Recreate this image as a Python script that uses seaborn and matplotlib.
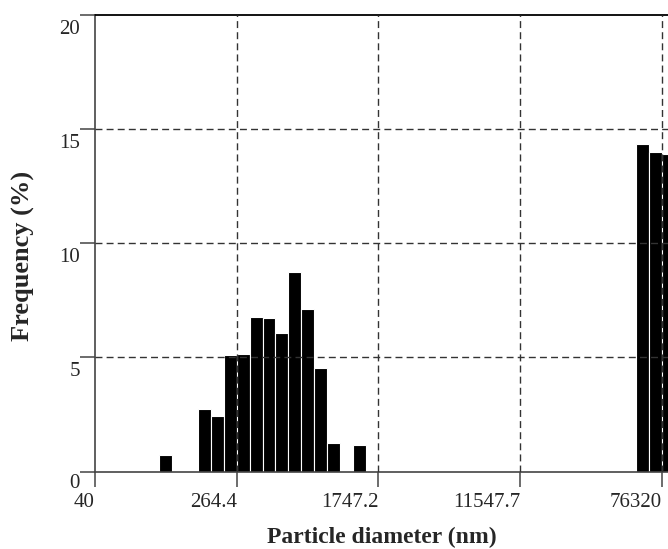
# particle size distribution, log-binned histogram
import numpy as np
import pandas as pd
import seaborn as sns
import matplotlib.pyplot as plt
import matplotlib.transforms as mtransforms
from matplotlib.ticker import NullLocator

# values
diameter_nm = [103, 172, 204, 243, 288, 342, 406, 482, 572, 680, 807, 958, 1351,
               58990, 70040, 83160]
frequency_pct = [0.74, 2.76, 2.42, 5.09, 5.15, 6.77, 6.71, 6.05, 8.72, 7.12, 4.56,
                 1.24, 1.15, 14.35, 13.99, 13.90]
x_ticks = [40, 264.4, 1747.2, 11547.7, 76320]
x_tick_labels = ["40", "264.4", "1747.2", "11547.7", "76320"]
y_ticks = [0, 5, 10, 15, 20]

df = pd.DataFrame({"diameter": diameter_nm, "freq": frequency_pct})

sns.set_style("white")
plt.rcParams["font.family"] = ["Liberation Serif", "DejaVu Serif"]

fig = plt.figure(figsize=(6.68, 5.49), dpi=100)
ax = fig.add_axes([95 / 668, 1 - 471.7 / 549, 573 / 668, 457 / 549])

# 11 log bins between consecutive tick values
step = np.log10(x_ticks[1] / x_ticks[0]) / 11
bins = list(np.arange(np.log10(x_ticks[0]), np.log10(x_ticks[-1]) + 2 * step, step))
sns.histplot(data=df, x="diameter", weights="freq", bins=bins, log_scale=True,
             color="black", alpha=1, edgecolor="white", linewidth=0.8, ax=ax)

ax.set_xlim(40, 82700)
ax.set_ylim(0, 20)
ax.xaxis.set_minor_locator(NullLocator())
ax.set_xticks(x_ticks, x_tick_labels, ha="right")
ax.set_yticks(y_ticks, [str(v) for v in y_ticks])

ax.grid(True, color="#333333", linestyle=(0, (5, 3)), linewidth=1.0)
ax.set_axisbelow(False)
for l in ax.get_xgridlines()[:1] + ax.get_ygridlines()[:1] + ax.get_ygridlines()[-1:]:
    l.set_visible(False)

for side in ["left", "bottom"]:
    ax.spines[side].set_color("#444444")
    ax.spines[side].set_linewidth(1.2)
ax.spines["top"].set_color("black")
ax.spines["top"].set_linewidth(1.3)
ax.spines["right"].set_visible(False)

ax.tick_params(axis="both", direction="out", length=11, width=1.1, color="#444444",
               labelsize=15, left=True, bottom=True)
ax.tick_params(axis="x", pad=4)
ax.tick_params(axis="y", pad=0)

# tick labels of the y axis hang just below their tick
for i, lab in enumerate(ax.get_yticklabels()):
    dy = -1.5 if i == 0 else -3.5
    off = mtransforms.ScaledTranslation(0, dy / 72, fig.dpi_scale_trans)
    lab.set_va("top")
    lab.set_transform(lab.get_transform() + off)

ax.set_xlabel("Particle diameter (nm)", fontsize=17, fontweight="bold")
ax.set_ylabel("Frequency (%)", fontsize=19, fontweight="bold")
ax.xaxis.set_label_coords(0.5, -0.12)
ax.yaxis.set_label_coords(-0.105, 0.472)

fig.savefig("out.png", dpi=100)
